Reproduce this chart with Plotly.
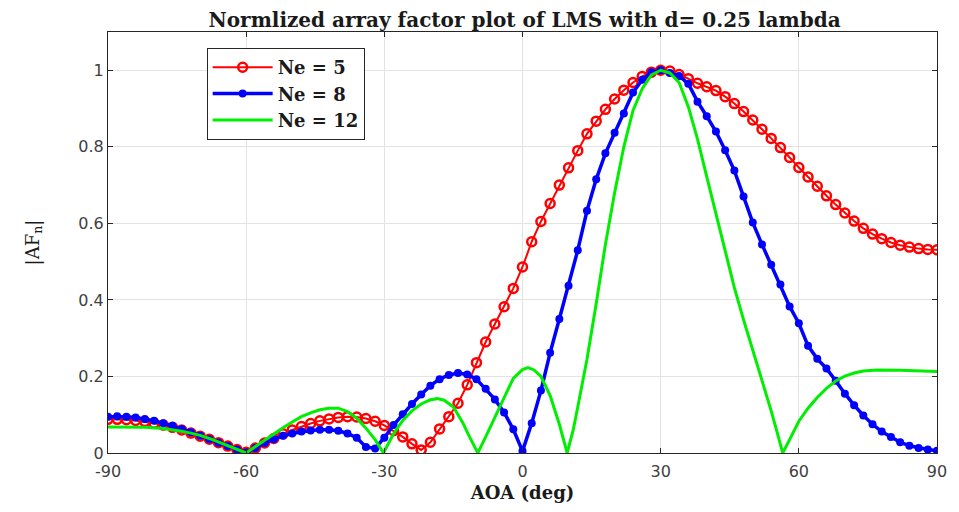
import plotly.graph_objects as go

# Angle samples (deg) for the Ne=5 and Ne=8 curves
aoa = [-90, -88, -86, -84, -82, -80, -78, -76, -74, -72, -70, -68, -66, -64, -62, -60,
       -58, -56, -54, -52, -50, -48, -46, -44, -42, -40, -38, -36, -34, -32, -30,
       -28, -26, -24, -22, -20, -18, -16, -14, -12, -10, -8, -6, -4, -2, 0,
       2, 4, 6, 8, 10, 12, 14, 16, 18, 20, 22, 24, 26, 28, 30,
       32, 34, 36, 38, 40, 42, 44, 46, 48, 50, 52, 54, 56, 58, 60,
       62, 64, 66, 68, 70, 72, 74, 76, 78, 80, 82, 84, 86, 88, 90]

af_ne5 = [0.088, 0.088, 0.087, 0.085, 0.082, 0.078, 0.073, 0.067, 0.060, 0.052, 0.044, 0.036, 0.027, 0.018, 0.009, 0.002,
          0.013, 0.026, 0.038, 0.050, 0.060, 0.069, 0.077, 0.084, 0.089, 0.093, 0.095, 0.094, 0.090, 0.083, 0.072,
          0.058, 0.042, 0.024, 0.008, 0.028, 0.063, 0.095, 0.130, 0.178, 0.236, 0.290, 0.337, 0.382, 0.430, 0.486,
          0.552, 0.605, 0.652, 0.700, 0.745, 0.790, 0.834, 0.867, 0.898, 0.925, 0.948, 0.968, 0.984, 0.995, 1.000,
          0.998, 0.989, 0.978, 0.966, 0.957, 0.947, 0.931, 0.913, 0.892, 0.870, 0.846, 0.822, 0.798, 0.772, 0.746,
          0.721, 0.697, 0.672, 0.649, 0.627, 0.606, 0.587, 0.572, 0.560, 0.550, 0.543, 0.538, 0.534, 0.532, 0.531]

af_ne8 = [0.095, 0.096, 0.095, 0.093, 0.089, 0.084, 0.078, 0.071, 0.063, 0.054, 0.045, 0.036, 0.027, 0.018, 0.009, 0.001,
          0.013, 0.026, 0.036, 0.045, 0.051, 0.056, 0.059, 0.061, 0.061, 0.058, 0.051, 0.040, 0.016, 0.012, 0.040,
          0.073, 0.101, 0.128, 0.153, 0.176, 0.193, 0.204, 0.209, 0.205, 0.193, 0.168, 0.140, 0.106, 0.062, 0.005,
          0.078, 0.163, 0.262, 0.350, 0.437, 0.530, 0.633, 0.715, 0.783, 0.837, 0.887, 0.942, 0.975, 0.995, 1.000,
          0.993, 0.985, 0.965, 0.918, 0.880, 0.840, 0.791, 0.738, 0.670, 0.602, 0.545, 0.492, 0.440, 0.383, 0.339,
          0.280, 0.246, 0.221, 0.189, 0.155, 0.125, 0.098, 0.075, 0.056, 0.042, 0.028, 0.019, 0.013, 0.009, 0.006]

# Ne=12 curve (line only), sampled with its nulls
aoa_ne12 = [-90, -86, -82, -78, -76, -74, -72, -70, -68, -66, -64, -62, -60,
            -58, -56, -54, -52, -50, -48, -46, -44, -42, -40, -38, -36, -34, -32, -30.2,
            -28, -26, -24, -22, -20, -18.5, -17, -15, -13, -11.5, -9.7,
            -8, -6, -4, -2, 0, 1.2, 2.5, 4, 6, 8, 9.7,
            11, 12, 14, 16, 18, 20, 22, 24, 26, 28, 30,
            32, 34, 36, 38, 40, 42, 44, 46, 48, 50, 52, 54, 55.5, 56.5,
            58, 60, 62, 64, 66, 68, 70, 72, 74, 77, 82, 86, 90]

af_ne12 = [0.068, 0.068, 0.067, 0.064, 0.061, 0.057, 0.052, 0.046, 0.038, 0.029, 0.020, 0.010, 0.0,
           0.017, 0.034, 0.050, 0.066, 0.081, 0.095, 0.105, 0.113, 0.117, 0.117, 0.108, 0.091, 0.065, 0.035, 0.0,
           0.050, 0.085, 0.110, 0.128, 0.139, 0.142, 0.138, 0.120, 0.080, 0.042, 0.0,
           0.042, 0.093, 0.147, 0.195, 0.218, 0.223, 0.217, 0.200, 0.150, 0.075, 0.0,
           0.060, 0.120, 0.245, 0.390, 0.545, 0.680, 0.800, 0.895, 0.952, 0.988, 1.000,
           0.993, 0.968, 0.905, 0.820, 0.722, 0.623, 0.525, 0.432, 0.348, 0.270, 0.190, 0.110, 0.045, 0.0,
           0.035, 0.083, 0.117, 0.145, 0.169, 0.188, 0.201, 0.209, 0.214, 0.217, 0.216, 0.215, 0.213]

x_ticks = [-90, -60, -30, 0, 30, 60, 90]
y_ticks = [0, 0.2, 0.4, 0.6, 0.8, 1]
y_tick_labels = ["0", "0.2", "0.4", "0.6", "0.8", "1"]

serif = "DejaVu Serif"
sans = "DejaVu Sans"

fig = go.Figure()
fig.add_trace(go.Scatter(
    x=aoa, y=af_ne5, mode="lines+markers", name="Ne = 5",
    line=dict(color="#ff0000", width=2),
    marker=dict(symbol="circle-open", size=9, color="#ff0000", line=dict(width=2.5, color="#ff0000")),
))
fig.add_trace(go.Scatter(
    x=aoa, y=af_ne8, mode="lines+markers", name="Ne = 8",
    line=dict(color="#0000ff", width=3.5),
    marker=dict(symbol="circle", size=8, color="#0000ff"),
))
fig.add_trace(go.Scatter(
    x=aoa_ne12, y=af_ne12, mode="lines", name="Ne = 12",
    line=dict(color="#00ee00", width=3),
))

axis_common = dict(
    showline=True, linecolor="#262626", linewidth=1, mirror="all",
    ticks="inside", ticklen=5, tickcolor="#262626",
    showgrid=True, gridcolor="#e3e3e3", gridwidth=1, zeroline=False,
    tickfont=dict(family=sans, size=16, color="#404040"),
)

fig.update_layout(
    width=959, height=512,
    margin=dict(l=108, r=17, t=32, b=58),
    paper_bgcolor="white", plot_bgcolor="white",
    title=dict(text="<b>Normlized array factor plot of LMS with d= 0.25 lambda</b>",
               x=0.547, xanchor="center", y=0.975, yanchor="top",
               font=dict(family=serif, size=20, color="#1a1a1a")),
    xaxis=dict(range=[-90, 90], tickvals=x_ticks, ticktext=[str(v) for v in x_ticks],
               ticklabelstandoff=4,
               title=dict(text="<b>AOA (deg)</b>", font=dict(family=serif, size=18, color="#1a1a1a"), standoff=6),
               **axis_common),
    yaxis=dict(range=[0, 1.1], tickvals=y_ticks, ticktext=y_tick_labels,
               title=dict(text="|AF<sub>n</sub>|", font=dict(family=serif, size=18, color="#1a1a1a"), standoff=34),
               **axis_common),
    legend=dict(x=0.119, y=0.962, xanchor="left", yanchor="top",
                bgcolor="white", bordercolor="#262626", borderwidth=1,
                font=dict(family=serif, size=18, color="#1a1a1a", weight="bold"),
                itemwidth=60, tracegroupgap=0),
    showlegend=True,
)

fig.write_html("out.html")
